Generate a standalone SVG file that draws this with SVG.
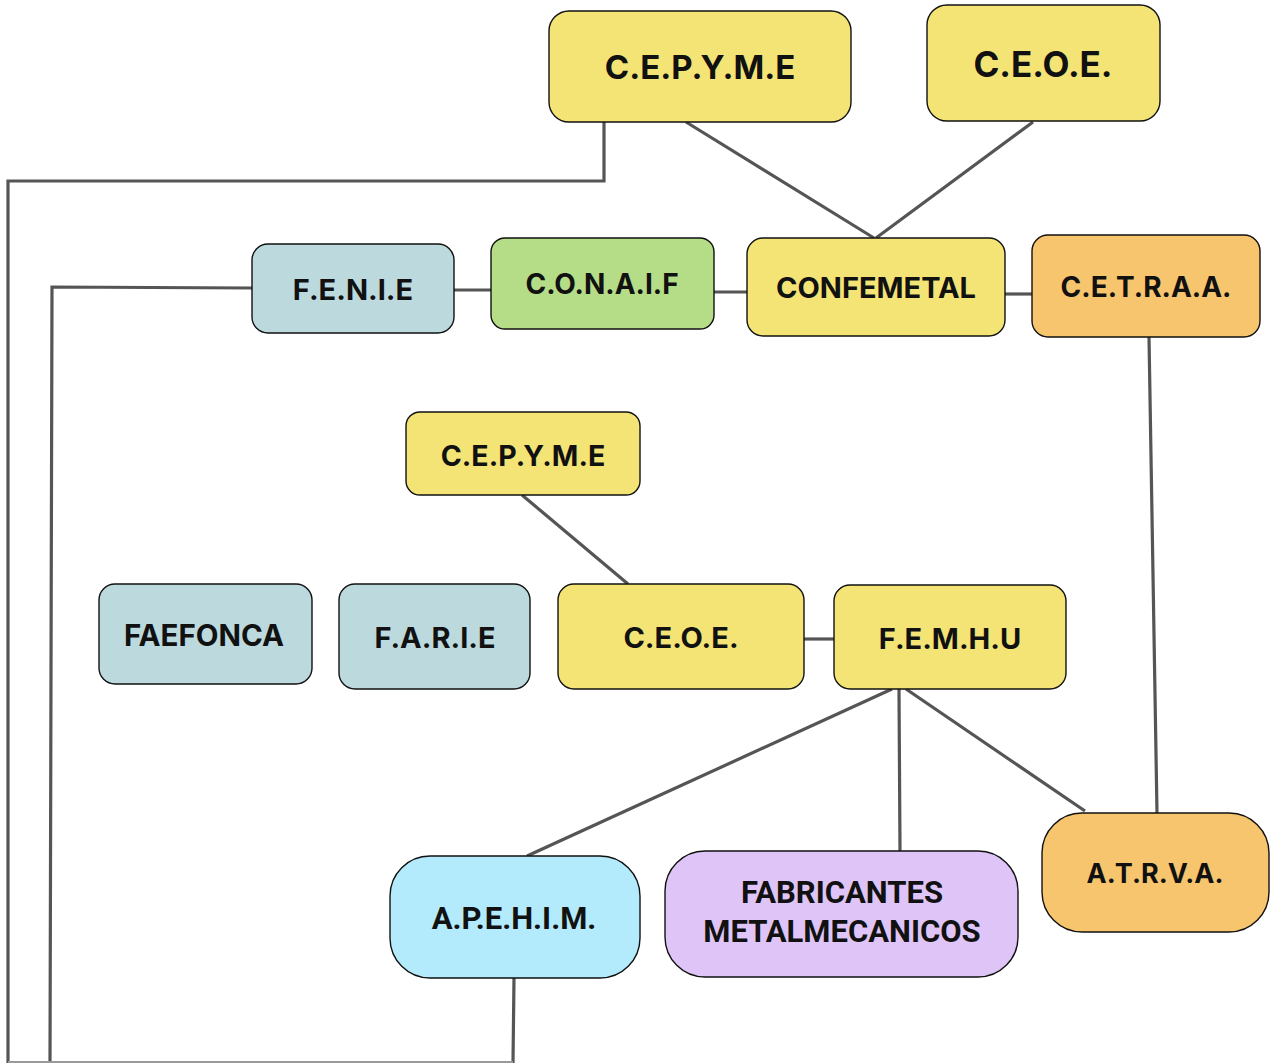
<svg xmlns="http://www.w3.org/2000/svg" width="1271" height="1063" viewBox="0 0 1271 1063">
<style>
.n{stroke:#111;stroke-width:1.4}
.y{fill:#F3E475}.b{fill:#BCDADE}.g{fill:#B5DD87}.o{fill:#F7C56E}.c{fill:#B3EBFD}.p{fill:#DFC5F7}
.t{font-family:"Inter","Liberation Sans",sans-serif;font-weight:700;fill:#111;text-anchor:middle;dominant-baseline:central}
.k{font-family:Roboto,"Liberation Sans",sans-serif;font-weight:700;fill:#111;text-anchor:middle;dominant-baseline:central}
.e{fill:none;stroke:#555;stroke-width:3.2}
</style>
<rect width="1271" height="1063" fill="#fff"/>
<g id="connectors">
<path class="e" d="M604 122V181H8V1063"/>
<path class="e" d="M686 122L874 238"/>
<path class="e" d="M1033 122L876 238"/>
<path class="e" d="M252 288L52 287L50 1063"/>
<path class="e" d="M454 290H491"/>
<path class="e" d="M714 292H747"/>
<path class="e" d="M1005 294H1032"/>
<path class="e" d="M1149 337L1157 813"/>
<path class="e" d="M522 495L628 584"/>
<path class="e" d="M804 639H834"/>
<path class="e" d="M892 689L527 856"/>
<path class="e" d="M899 689L900 851"/>
<path class="e" d="M906 689L1085 811"/>
<path class="e" d="M514 978L513 1063"/>
<path d="M8 1062H513" stroke="#999" stroke-width="2" fill="none"/>
</g>
<g id="cepyme-top"><rect class="n y" x="549" y="11" width="302" height="111" rx="20"/><text class="t" x="700" y="67" font-size="33">C.E.P.Y.M.E</text></g>
<g id="ceoe-top"><rect class="n y" x="927" y="5" width="233" height="116" rx="20"/><text class="t" x="1043" y="64" font-size="35">C.E.O.E.</text></g>
<g id="fenie"><rect class="n b" x="252" y="244" width="202" height="89" rx="16"/><text class="t" x="353" y="289" font-size="29">F.E.N.I.E</text></g>
<g id="conaif"><rect class="n g" x="491" y="238" width="223" height="91" rx="14"/><text class="t" x="602" y="284" font-size="28">C.O.N.A.I.F</text></g>
<g id="confemetal"><rect class="n y" x="747" y="238" width="258" height="98" rx="16"/><text class="t" x="876" y="287" font-size="29">CONFEMETAL</text></g>
<g id="cetraa"><rect class="n o" x="1032" y="235" width="228" height="102" rx="16"/><text class="t" x="1146" y="287" font-size="28">C.E.T.R.A.A.</text></g>
<g id="cepyme-mid"><rect class="n y" x="406" y="412" width="234" height="83" rx="14"/><text class="t" x="523" y="455" font-size="28.5">C.E.P.Y.M.E</text></g>
<g id="faefonca"><rect class="n b" x="99" y="584" width="213" height="100" rx="16"/><text class="t" x="204" y="635" font-size="29.5">FAEFONCA</text></g>
<g id="farie"><rect class="n b" x="339" y="584" width="191" height="105" rx="16"/><text class="t" x="435" y="637" font-size="29">F.A.R.I.E</text></g>
<g id="ceoe-mid"><rect class="n y" x="558" y="584" width="246" height="105" rx="16"/><text class="t" x="681" y="637" font-size="29">C.E.O.E.</text></g>
<g id="femhu"><rect class="n y" x="834" y="585" width="232" height="104" rx="16"/><text class="t" x="950" y="638" font-size="29">F.E.M.H.U</text></g>
<g id="apehim"><rect class="n c" x="390" y="856" width="250" height="122" rx="40"/><text class="k" x="514" y="918" font-size="31">A.P.E.H.I.M.</text></g>
<g id="fabricantes"><rect class="n p" x="665" y="851" width="353" height="126" rx="40"/><text class="k" x="842" y="892" font-size="31">FABRICANTES</text><text class="k" x="842" y="931" font-size="31">METALMECANICOS</text></g>
<g id="atrva"><rect class="n o" x="1042" y="813" width="227" height="119" rx="40"/><text class="t" x="1155" y="873" font-size="27">A.T.R.V.A.</text></g>
</svg>
